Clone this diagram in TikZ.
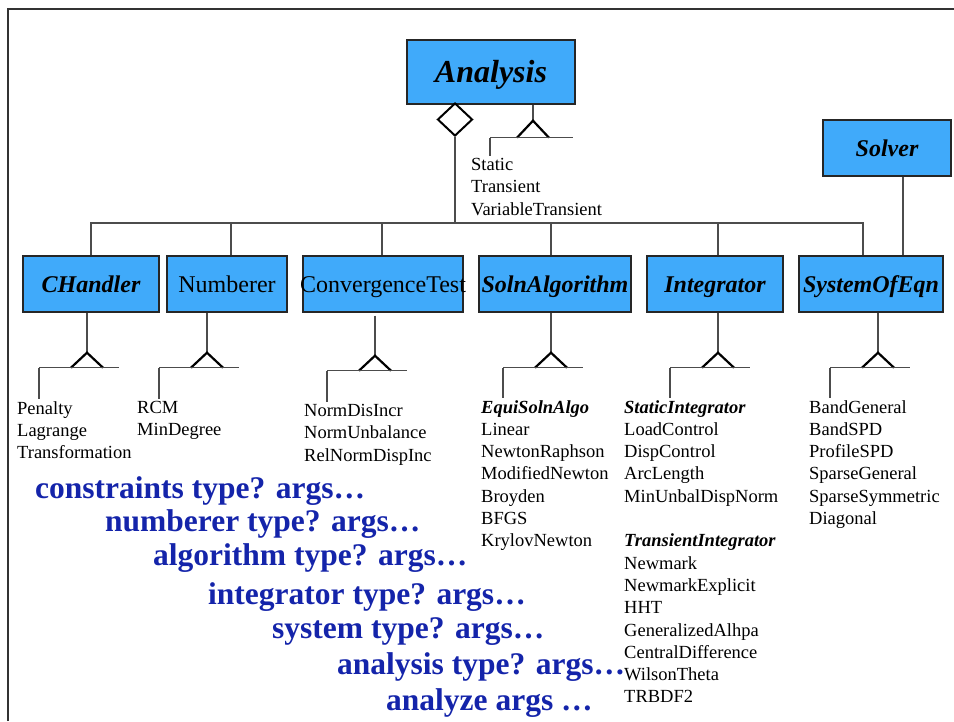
\documentclass[tikz,border=0pt]{standalone}
\usepackage{fontspec}
\setmainfont{Liberation Serif}
\usetikzlibrary{shapes.geometric}
\definecolor{boxblue}{RGB}{64,170,250}
\definecolor{cmdblue}{RGB}{20,36,170}
\tikzset{
  classbox/.style={draw=black!85, fill=boxblue, line width=1.4pt, minimum height=56pt, inner sep=0pt, text height=18pt, text depth=2pt, font=\fontsize{24}{28}\selectfont\bfseries\itshape},
  plainbox/.style={classbox, font=\fontsize{24}{28}\selectfont},
  link/.style={draw=black!70, line width=1.5pt},
  tri/.style={draw=black, line width=2.2pt, line join=miter},
  kinds/.style={anchor=north west, inner sep=0pt, align=left, font=\fontsize{18.5}{22.3}\selectfont},
  cmd/.style={anchor=base west, inner sep=0pt, text=cmdblue, font=\fontsize{31.5}{36}\selectfont\bfseries},
}
\begin{document}
\begin{tikzpicture}[x=1pt,y=-1pt]
\useasboundingbox (0,0) rectangle (954,721);
\draw[black!80, line width=1.5pt] (8,721) -- (8,9) -- (954,9);

% classes
\node[classbox, minimum width=168pt, minimum height=64pt, text height=22pt, font=\fontsize{32}{36}\selectfont\bfseries\itshape] (ana) at (491,72) {Analysis};
\node[classbox, minimum width=128pt] (slv) at (887,148) {Solver};
\node[classbox, minimum width=136pt] (chd) at (91,284) {CHandler};
\node[plainbox, minimum width=120pt] (num) at (227,284) {Numberer};
\node[plainbox, minimum width=160pt] (cvt) at (383,284) {\makebox[0pt]{ConvergenceTest}};
\node[classbox, minimum width=152pt] (sol) at (555,284) {SolnAlgorithm};
\node[classbox, minimum width=136pt] (int) at (715,284) {Integrator};
\node[classbox, minimum width=144pt] (soe) at (871,284) {SystemOfEqn};

% aggregation
\node[diamond, draw=black, fill=white, line width=2pt, inner sep=0pt, minimum width=35pt, minimum height=33pt] (agg) at (455,119.5) {};
\coordinate (bus) at (455,223);
\draw[link] (agg.south) -- (bus);
\draw[link] (chd.north) -- (chd.north |- bus) -- ([xshift=-8pt]soe.north |- bus) -- ([xshift=-8pt]soe.north);
\foreach \n/\dx in {num/4, cvt/-1, sol/-4, int/3}
  \draw[link] ([xshift=\dx pt]\n.north) -- ([xshift=\dx pt]\n.north |- bus);
\draw[link] ([xshift=16pt]slv.south) -- ([xshift=16pt]slv.south |- soe.north);

% subclasses
\node[kinds] (l-ana) at (471,158) {Static\\Transient\\VariableTransient};
\node[kinds] (l-chd) at (17,401) {Penalty\\Lagrange\\Transformation};
\node[kinds] (l-num) at (137,401) {RCM\\MinDegree};
\node[kinds] (l-cvt) at (304,404) {NormDisIncr\\NormUnbalance\\RelNormDispInc};
\node[kinds] (l-sol) at (481,400) {\textbf{\textit{EquiSolnAlgo}}\\Linear\\NewtonRaphson\\ModifiedNewton\\Broyden\\BFGS\\KrylovNewton};
\node[kinds] (l-int) at (624,400) {\textbf{\textit{StaticIntegrator}}\\LoadControl\\DispControl\\ArcLength\\MinUnbalDispNorm\\[22.3pt]\textbf{\textit{TransientIntegrator}}\\Newmark\\NewmarkExplicit\\HHT\\GeneralizedAlhpa\\CentralDifference\\WilsonTheta\\TRBDF2};
\node[kinds] (l-soe) at (809,400) {BandGeneral\\BandSPD\\ProfileSPD\\SparseGeneral\\SparseSymmetric\\Diagonal};

% inheritance
\draw[link] ([xshift=42pt]ana.south) -- ++(0,16) coordinate (apex-ana);
\draw[tri] ([shift={(-16,17)}]apex-ana) -- (apex-ana) -- ++(16,17);
\draw[link] ([shift={(-43,17)}]apex-ana) coordinate (tee-ana) -- ++(83,0);
\draw[link] (tee-ana) -- ([yshift=2pt]tee-ana |- l-ana.north);
\foreach \n/\dx/\gp in {chd/-4/0, num/-20/0, cvt/-8/3, sol/-4/0, int/3/0, soe/7/0} {
  \draw[link] ([shift={(\dx,\gp)}]\n.south) -- ++(0,40) coordinate (apex-\n);
  \draw[tri] ([shift={(-16,15)}]apex-\n) -- (apex-\n) -- ++(16,15);
  \draw[link] ([shift={(-48,15)}]apex-\n) coordinate (tee-\n) -- ++(80,0);
  \draw[link] (tee-\n) -- ([yshift=2pt]tee-\n |- l-\n.north);
}

% commands
\foreach \i/\x/\y/\t in {1/35/498/constraints type? args…, 2/105/531/numberer type? args…,
    3/153/565/algorithm type? args…, 4/208/604/integrator type? args…,
    5/272/638/system type? args…, 6/337/674/analysis type? args…, 7/386/710/analyze args …}
  \node[cmd] (cmd\i) at (\x,\y) {\t};
\end{tikzpicture}
\end{document}
